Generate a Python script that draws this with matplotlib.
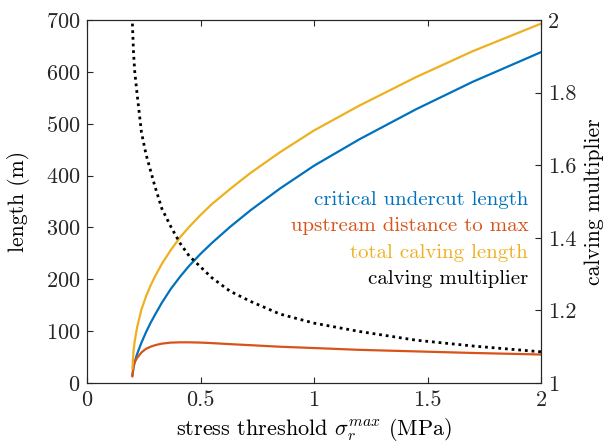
import numpy as np
import matplotlib
matplotlib.use('Agg')
import matplotlib.pyplot as plt
from matplotlib.ticker import FuncFormatter

plt.rcParams['font.family'] = 'cmr10'
plt.rcParams['mathtext.fontset'] = 'cm'
plt.rcParams['axes.formatter.use_mathtext'] = True
plt.rcParams['font.size'] = 15

# stress threshold (MPa)
stress = [0.2, 0.205, 0.21, 0.22, 0.24, 0.26, 0.28, 0.3, 0.33, 0.37, 0.41, 0.45,
          0.5, 0.55, 0.63, 0.72, 0.85, 1.0, 1.2, 1.45, 1.7, 2.0]
# lengths (m)
critical = [15, 30, 40, 55, 78, 98, 116, 132, 155, 182, 205, 226,
            249, 270, 301, 333, 375, 419, 470, 528, 581, 638]
upstream = [13, 33, 40, 48, 59, 66, 70, 73, 76, 78, 78.5, 78.5,
            78, 77, 75, 73, 70, 67.5, 64, 61, 58, 55]
total = [28, 62, 80, 106, 142, 167, 188, 206, 230, 257, 281, 301,
         324, 345, 374, 405, 445, 487, 535, 590, 640, 693]
# calving multiplier (right axis)
multiplier = [1.99, 1.91, 1.86, 1.80, 1.69, 1.63, 1.585, 1.54, 1.48, 1.43, 1.385, 1.35,
              1.32, 1.29, 1.253, 1.225, 1.19, 1.165, 1.142, 1.118, 1.102, 1.086]

labels = ['critical undercut length', 'upstream distance to max',
          'total calving length', 'calving multiplier']
colors = ['#0072BD', '#D95319', '#EDB120', '#000000']
frame = '#262626'

fig = plt.figure(figsize=(6.1, 4.48), dpi=100)
ax = fig.add_axes([0.1426, 0.145, 0.887 - 0.1426, 0.9554 - 0.145])
ax2 = ax.twinx()

ax.plot(stress, critical, color=colors[0], lw=1.6)
ax.plot(stress, upstream, color=colors[1], lw=1.6)
ax.plot(stress, total, color=colors[2], lw=1.6)
ax2.plot(stress, multiplier, color=colors[3], lw=2.0, linestyle=(0, (1, 1.4)))

ax.set_xlim(0, 2)
ax.set_ylim(0, 700)
ax2.set_ylim(1, 2)
ax.set_xticks([0, 0.5, 1, 1.5, 2])
ax.set_yticks(range(0, 701, 100))
ax2.set_yticks([1, 1.2, 1.4, 1.6, 1.8, 2])
fmt = FuncFormatter(lambda v, p: '%g' % v)
ax.xaxis.set_major_formatter(fmt)
ax2.yaxis.set_major_formatter(fmt)

ax.tick_params(direction='in', length=4, width=0.8, color=frame, labelcolor='#262626',
               top=True, right=False, labelsize=16, pad=5)
ax2.tick_params(direction='in', length=4, width=0.8, color=frame, labelcolor='#262626',
                labelsize=16, pad=5)
for a in (ax, ax2):
    for s in a.spines.values():
        s.set_color(frame)
        s.set_linewidth(0.8)

ax.set_xlabel(r'stress threshold $\sigma_r^{max}$ (MPa)', fontsize=16, labelpad=5)
ax.set_ylabel('length (m)', fontsize=15.5, labelpad=11)
ax2.set_ylabel('calving multiplier', fontsize=15.5, labelpad=6)

# text legend, right aligned
ys = [353, 302, 251, 200]
for lab, c, y in zip(labels, colors, ys):
    ax.text(1.943, y, lab, color=c, ha='right', va='center', fontsize=15)

fig.savefig('out.png', dpi=100)
